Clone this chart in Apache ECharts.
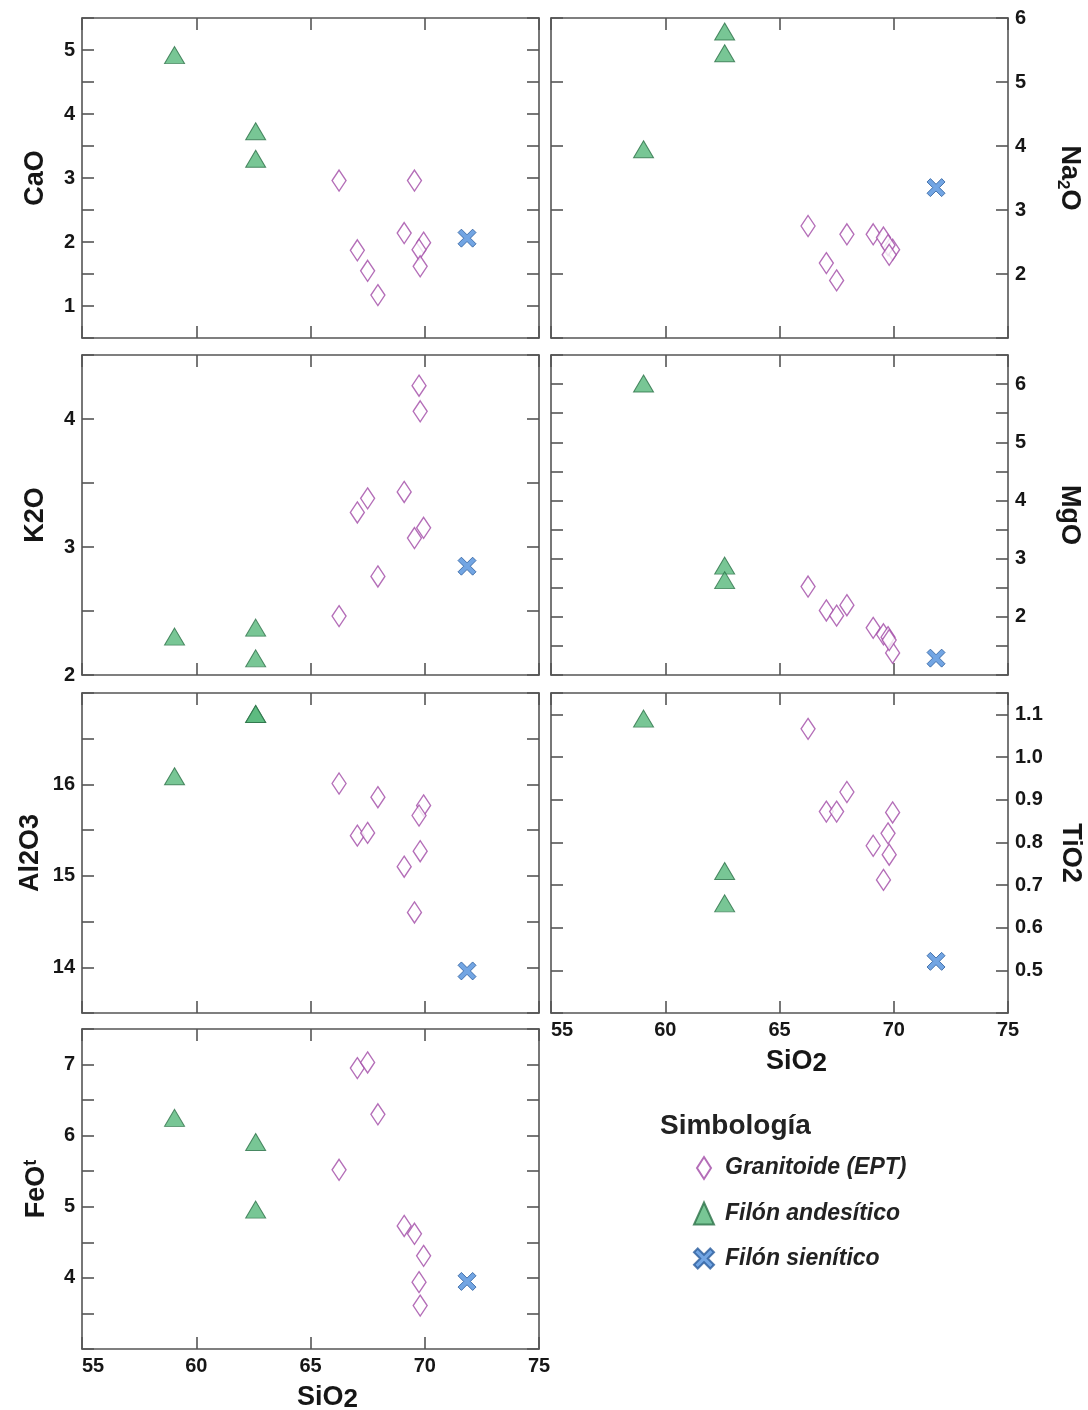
<!DOCTYPE html>
<html><head><meta charset="utf-8">
<script src="https://cdn.jsdelivr.net/npm/echarts@6/dist/echarts.min.js"></script>
<style>html,body{margin:0;padding:0;background:#fff}#c{width:1088px;height:1410px}</style>
</head><body><div id="c"></div>
<script>
// ---------------- DATA ----------------
const SERIES_NAMES = ['Granitoide (EPT)', 'Filón andesítico', 'Filón sienítico'];

const SIO2_GRANITOIDE = [66.25, 67.05, 67.5, 67.95, 69.1, 69.55, 69.95, 69.75, 69.8];
const SIO2_ANDESITICO = [59.05, 62.6, 62.6];
const SIO2_SIENITICO  = [71.85];

const CAO_GRAN = [2.96, 1.87, 1.55, 1.17, 2.14, 2.96, 1.99, 1.88, 1.62];
const CAO_AND  = [4.92, 3.73, 3.30];
const CAO_SYE  = [2.06];

const NA2O_GRAN = [2.75, 2.17, 1.90, 2.62, 2.62, 2.57, 2.38, 2.45, 2.30];
const NA2O_AND  = [3.95, 5.79, 5.45];
const NA2O_SYE  = [3.35];

const K2O_GRAN = [2.46, 3.27, 3.38, 2.77, 3.43, 3.07, 3.15, 4.26, 4.06];
const K2O_AND  = [2.30, 2.37, 2.13];
const K2O_SYE  = [2.85];

const MGO_GRAN = [2.52, 2.11, 2.02, 2.20, 1.81, 1.70, 1.38, 1.65, 1.60];
const MGO_AND  = [6.01, 2.88, 2.63];
const MGO_SYE  = [1.29];

const AL2O3_GRAN = [16.01, 15.44, 15.47, 15.86, 15.10, 14.60, 15.77, 15.66, 15.27];
const AL2O3_AND  = [16.09, 16.77, 16.77];
const AL2O3_SYE  = [13.96];

const TIO2_GRAN = [1.066, 0.872, 0.872, 0.918, 0.792, 0.712, 0.870, 0.821, 0.771];
const TIO2_AND  = [1.09, 0.733, 0.657];
const TIO2_SYE  = [0.521];

const FEOT_GRAN = [5.52, 6.95, 7.03, 6.30, 4.73, 4.62, 4.31, 3.94, 3.61];
const FEOT_AND  = [6.25, 5.91, 4.96];
const FEOT_SYE  = [3.95];

// tick labels
const SIO2_TICKS  = [55, 60, 65, 70, 75];
const CAO_TICKS   = [1, 2, 3, 4, 5];
const NA2O_TICKS  = [2, 3, 4, 5, 6];
const K2O_TICKS   = [2, 3, 4];
const MGO_TICKS   = [2, 3, 4, 5, 6];
const AL2O3_TICKS = [14, 15, 16];
const TIO2_TICKS  = [0.5, 0.6, 0.7, 0.8, 0.9, 1.0, 1.1];
const FEOT_TICKS  = [4, 5, 6, 7];

// ---------------- LAYOUT / STYLE ----------------
const FONT = '"Liberation Sans", Arial, Helvetica, sans-serif';
const FRAME = '#555';
const TEXT = '#161616';
const PW = 457, PH = 320;
const POS = [[82,18],[551,18],[82,355],[551,355],[82,693],[551,693],[82,1029]];

const RICH = {
  b:   {fontFamily: FONT, fontSize: 27, fontWeight: 'bold', color: TEXT, lineHeight: 30, verticalAlign: 'middle'},
  sub: {fontFamily: FONT, fontSize: 17, fontWeight: 'bold', color: TEXT, lineHeight: 14, verticalAlign: 'bottom'},
  sup: {fontFamily: FONT, fontSize: 18, fontWeight: 'bold', color: TEXT, lineHeight: 14, verticalAlign: 'top'},
  low: {fontFamily: FONT, fontSize: 26, fontWeight: 'bold', color: TEXT, lineHeight: 20, verticalAlign: 'bottom'}
};

const DIAMOND = 'path://M6,0 L12,10 L6,20 L0,10 Z';
const CROSS = 'path://M3,0 L8,5 L13,0 L16,3 L11,8 L16,13 L13,16 L8,11 L3,16 L0,13 L5,8 L0,3 Z';

const PANELS = [
  {name: '{b|CaO}', side: 'left', xLab: false, min: 0.5, max: 5.5, step: 0.5, ticks: CAO_TICKS, dec: 0, gap: 31, g: CAO_GRAN, a: CAO_AND, s: CAO_SYE},
  {name: '{b|Na}{sub|2}{b|O}', side: 'right', xLab: false, min: 1, max: 6, step: 1, ticks: NA2O_TICKS, dec: 0, gap: 46, g: NA2O_GRAN, a: NA2O_AND, s: NA2O_SYE},
  {name: '{b|K2O}', side: 'left', xLab: false, min: 2, max: 4.5, step: 0.5, ticks: K2O_TICKS, dec: 0, gap: 31, g: K2O_GRAN, a: K2O_AND, s: K2O_SYE},
  {name: '{b|MgO}', side: 'right', xLab: false, min: 1, max: 6.5, step: 0.5, ticks: MGO_TICKS, dec: 0, gap: 46, g: MGO_GRAN, a: MGO_AND, s: MGO_SYE},
  {name: '{b|Al2O3}', side: 'left', xLab: false, min: 13.5, max: 17, step: 0.5, ticks: AL2O3_TICKS, dec: 0, gap: 36, g: AL2O3_GRAN, a: AL2O3_AND, s: AL2O3_SYE},
  {name: '{b|TiO2}', side: 'right', xLab: true, min: 0.4, max: 1.15, step: 0.1, ticks: TIO2_TICKS, dec: 1, gap: 47, g: TIO2_GRAN, a: TIO2_AND, s: TIO2_SYE},
  {name: '{b|FeO}{sup|t}', side: 'left', xLab: true, min: 3, max: 7.5, step: 0.5, ticks: FEOT_TICKS, dec: 0, gap: 30, g: FEOT_GRAN, a: FEOT_AND, s: FEOT_SYE}
];

const zip = (xs, ys) => xs.map((x, i) => [x, ys[i]]);
const labelFmt = (ticks, dec) => v => ticks.some(t => Math.abs(t - v) < 1e-6) ? Number(v).toFixed(dec) : '';

const lineStyle = {color: FRAME, width: 1.6};
const tickStyle = {inside: true, length: 12, lineStyle: {color: FRAME, width: 1.6}};
const labelStyle = {fontFamily: FONT, fontSize: 20, fontWeight: 'bold', color: TEXT};

const grid = [], xAxis = [], yAxis = [], series = [];
PANELS.forEach((p, i) => {
  grid.push({left: POS[i][0], top: POS[i][1], width: PW, height: PH, containLabel: false, outerBoundsMode: 'none'});
  ['bottom', 'top'].forEach((pos, k) => {
    const show = k === 0 && p.xLab;
    xAxis.push({
      gridIndex: i, type: 'value', position: pos, min: 55, max: 75, interval: 5,
      axisLine: {show: true, onZero: false, lineStyle},
      axisTick: tickStyle, splitLine: {show: false},
      axisLabel: Object.assign({show: show, margin: 7, alignMinLabel: 'left',
        formatter: labelFmt(SIO2_TICKS, 0)}, labelStyle),
      name: show ? '{b|SiO}{low|2}' : '', nameLocation: 'middle', nameGap: 34,
      nameTextStyle: {rich: RICH, padding: [0, 0, 0, 34]}, nameMoveOverlap: false
    });
  });
  const other = p.side === 'left' ? 'right' : 'left';
  [p.side, other].forEach((pos, k) => {
    const main = k === 0;
    yAxis.push({
      gridIndex: i, type: 'value', position: pos, min: p.min, max: p.max, interval: p.step,
      axisLine: {show: true, onZero: false, lineStyle},
      axisTick: tickStyle, splitLine: {show: false},
      axisLabel: Object.assign({show: main, margin: 7, formatter: labelFmt(p.ticks, p.dec)}, labelStyle),
      name: main ? p.name : '', nameLocation: 'middle', nameGap: p.gap,
      nameRotate: pos === 'left' ? 90 : -90,
      nameTextStyle: {rich: RICH}, nameMoveOverlap: false
    });
  });
  const base = {type: 'scatter', xAxisIndex: 2 * i, yAxisIndex: 2 * i, silent: true, animation: false};
  series.push(Object.assign({}, base, {
    name: SERIES_NAMES[0], data: zip(SIO2_GRANITOIDE, p.g), symbol: DIAMOND, symbolSize: [14, 21], symbolKeepAspect: false,
    itemStyle: {color: '#ffffff', borderColor: '#a14aa6', borderWidth: 1.4}, z: 3
  }));
  series.push(Object.assign({}, base, {
    name: SERIES_NAMES[1], data: zip(SIO2_ANDESITICO, p.a), symbol: 'triangle', symbolSize: [20, 17],
    itemStyle: {color: '#56b87a', borderColor: '#2c7047', borderWidth: 1}, z: 4
  }));
  series.push(Object.assign({}, base, {
    name: SERIES_NAMES[2], data: zip(SIO2_SIENITICO, p.s), symbol: CROSS, symbolSize: 18,
    itemStyle: {color: '#4f8fdc', borderColor: '#2b5d9c', borderWidth: 1}, z: 5
  }));
});

const chart = echarts.init(document.getElementById('c'), null, {renderer: 'canvas'});
chart.setOption({
  backgroundColor: '#ffffff',
  animation: false,
  title: {text: 'Simbología', left: 660, top: 1112, padding: 0,
    textStyle: {fontFamily: FONT, fontSize: 28, fontWeight: 'bold', color: '#222'}},
  legend: {
    orient: 'vertical', left: 693, top: 1156, padding: 0,
    itemWidth: 20, itemHeight: 22, itemGap: 21.5, selectedMode: false, symbolKeepAspect: true,
    data: [
      {name: SERIES_NAMES[0], icon: 'path://M7,0 L14,11 L7,22 L0,11 Z'},
      {name: SERIES_NAMES[1]},
      {name: SERIES_NAMES[2]}
    ],
    textStyle: {fontFamily: FONT, fontSize: 23, fontStyle: 'italic', fontWeight: 'bold', color: '#222', padding: [0, 0, 0, 6]}
  },
  grid, xAxis, yAxis, series
});
</script></body></html>
